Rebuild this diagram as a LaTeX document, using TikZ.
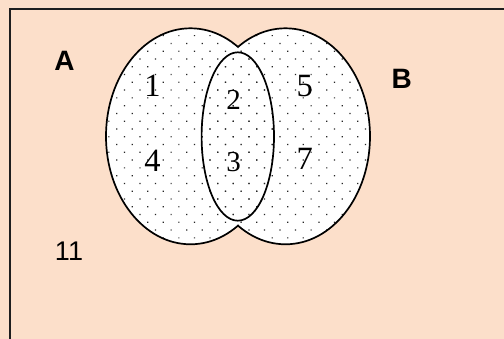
\documentclass[tikz,border=0pt]{standalone}
\usepackage{fontspec}
\newfontfamily\vsans{Liberation Sans}
\newfontfamily\vserif{Liberation Serif}
\usetikzlibrary{patterns.meta}
\definecolor{peach}{RGB}{252,223,202}
\definecolor{framecol}{RGB}{30,30,30}
\tikzset{
  setfill/.style={pattern={Dots[distance=11pt, angle=45, radius=0.85pt]}, pattern color=black!85},
  setline/.style={draw=black, line width=1.7pt},
  setname/.style={inner sep=0pt, font=\vsans\bfseries\fontsize{28}{32}\selectfont},
  bignum/.style={inner sep=0pt, font=\vserif\fontsize{32.5}{36}\selectfont},
  smallnum/.style={inner sep=0pt, font=\vserif\fontsize{29}{33}\selectfont},
  outnum/.style={inner sep=0pt, font=\vsans\fontsize{27}{31}\selectfont},
}
\begin{document}
\begin{tikzpicture}[x=1pt,y=1pt]
\useasboundingbox (0,0) rectangle (504,339);
\clip (0,0) rectangle (504,339);
\fill[peach] (0,0) rectangle (504,339);
\draw[framecol, line width=1.6pt] (10,-20) rectangle (530,329.7);
\coordinate (ca) at (190.5,202.7);
\coordinate (cb) at (285.5,202.7);
\coordinate (cab) at (237.8,202.5);
% fills
\fill[white] (ca) ellipse [x radius=84.5, y radius=108];
\fill[white] (cb) ellipse [x radius=84.5, y radius=108];
\fill[setfill] (ca) ellipse [x radius=84.5, y radius=108];
\fill[setfill] (cb) ellipse [x radius=84.5, y radius=108];
% outlines of the union
\begin{scope}
  \clip (0,0) rectangle (238,339);
  \draw[setline] (ca) ellipse [x radius=84.5, y radius=108];
\end{scope}
\begin{scope}
  \clip (238,0) rectangle (504,339);
  \draw[setline] (cb) ellipse [x radius=84.5, y radius=108];
\end{scope}
% intersection ellipse
\draw[setline] (cab) ellipse [x radius=36.2, y radius=84.2];
% labels
\node[setname] (la) at (64.5,278.3) {A};
\node[setname] (lb) at (401.7,259.7) {B};
\node[outnum] (n11) at (69,87.7) {11};
\node[bignum] (n1) at (152.5,253) {1};
\node[bignum] (n4) at (152.5,178.2) {4};
\node[smallnum] (n2) at (233.5,239) {2};
\node[smallnum] (n3) at (233.5,177.3) {3};
\node[bignum] (n5) at (304.7,253) {5};
\node[bignum] (n7) at (304.7,180) {7};
\end{tikzpicture}
\end{document}
